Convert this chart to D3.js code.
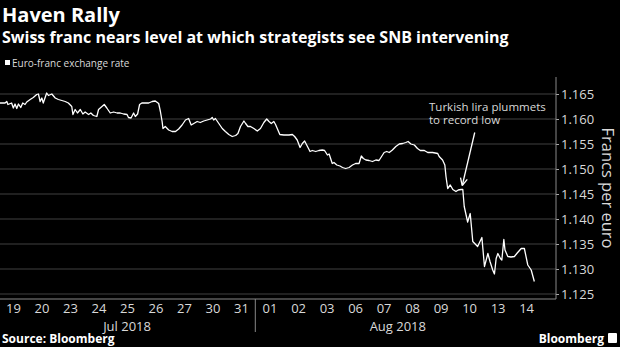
<!DOCTYPE html>
<html>
<head>
<meta charset="utf-8">
<script src="https://cdn.jsdelivr.net/npm/d3@7"></script>
<style>
  body { margin: 0; background: #000; }
  svg { display: block; font-family: "Open Sans", "Noto Sans", sans-serif; }
</style>
</head>
<body>
<div id="chart"></div>
<script>
// trading days shown on the x axis
const dayLabels = ["19", "20", "23", "24", "25", "26", "27", "30", "31",
                   "01", "02", "03", "06", "07", "08", "09", "10", "13", "14"];
const months = [
  { label: "Jul 2018", start: 0, end: 9 },
  { label: "Aug 2018", start: 9, end: 19 }
];
const yTicks = [1.125, 1.130, 1.135, 1.140, 1.145, 1.150, 1.155, 1.160, 1.165];

// position in trading days (0 = start of Jul 19) and EUR/CHF rate
const times = [0.04, 0.22, 0.28, 0.32, 0.45, 0.51, 0.57, 0.63, 0.69, 0.77, 0.84, 0.92, 0.98, 1.10, 1.21, 1.33, 1.39, 1.45, 1.51, 1.56,
  1.62, 1.68, 1.74, 1.86, 1.98, 2.09, 2.21, 2.33, 2.44, 2.56, 2.60, 2.68, 2.76, 2.86, 2.95, 3.03, 3.15, 3.23, 3.32, 3.44,
  3.50, 3.62, 3.70, 3.79, 3.91, 4.03, 4.15, 4.26, 4.38, 4.50, 4.55, 4.64, 4.73, 4.79, 4.87, 4.94, 5.02, 5.14, 5.26, 5.38,
  5.49, 5.61, 5.67, 5.73, 5.76, 5.84, 5.96, 6.08, 6.20, 6.31, 6.43, 6.55, 6.66, 6.75, 6.84, 6.96, 7.07, 7.19, 7.31, 7.43,
  7.49, 7.54, 7.60, 7.72, 7.84, 7.95, 8.07, 8.19, 8.31, 8.39, 8.48, 8.60, 8.66, 8.74, 8.83, 8.95, 9.07, 9.18, 9.30, 9.40,
  9.48, 9.56, 9.65, 9.71, 9.77, 9.86, 10.00, 10.18, 10.30, 10.38, 10.47, 10.57, 10.65, 10.73, 10.83, 10.92, 11.00, 11.12, 11.23, 11.35,
  11.43, 11.53, 11.59, 11.70, 11.76, 11.86, 11.97, 12.06, 12.17, 12.29, 12.41, 12.52, 12.64, 12.72, 12.79, 12.88, 12.99, 13.11, 13.23, 13.34,
  13.43, 13.52, 13.61, 13.70, 13.81, 13.93, 14.05, 14.17, 14.28, 14.36, 14.46, 14.58, 14.69, 14.79, 14.93, 15.05, 15.22, 15.40, 15.45, 15.57,
  15.65, 15.69, 15.75, 15.84, 15.93, 16.04, 16.12, 16.22, 16.28, 16.33, 16.45, 16.54, 16.63, 16.80, 16.95, 17.04, 17.16, 17.24, 17.33, 17.39,
  17.45, 17.51, 17.60, 17.65, 17.72, 17.76, 17.86, 17.97, 18.09, 18.19, 18.33, 18.44, 18.56, 18.68, 18.79];
const rates = [1.1632, 1.1632, 1.1635, 1.1629, 1.1632, 1.1622, 1.1630, 1.1621, 1.1630, 1.1623, 1.1632, 1.1629, 1.1634, 1.1639, 1.1643, 1.1649, 1.1650, 1.1635, 1.1642, 1.1632,
  1.1642, 1.1652, 1.1647, 1.1650, 1.1642, 1.1639, 1.1637, 1.1635, 1.1632, 1.1625, 1.1609, 1.1619, 1.1612, 1.1619, 1.1610, 1.1614, 1.1609, 1.1612, 1.1607, 1.1605,
  1.1619, 1.1625, 1.1629, 1.1622, 1.1612, 1.1614, 1.1612, 1.1612, 1.1610, 1.1609, 1.1603, 1.1602, 1.1612, 1.1605, 1.1610, 1.1629, 1.1632, 1.1632, 1.1632, 1.1635,
  1.1636, 1.1631, 1.1615, 1.1595, 1.1581, 1.1585, 1.1578, 1.1575, 1.1575, 1.1580, 1.1588, 1.1598, 1.1601, 1.1588, 1.1591, 1.1595, 1.1593, 1.1596, 1.1598, 1.1600,
  1.1603, 1.1598, 1.1601, 1.1591, 1.1581, 1.1575, 1.1569, 1.1565, 1.1567, 1.1571, 1.1585, 1.1596, 1.1591, 1.1585, 1.1585, 1.1581, 1.1576, 1.1581, 1.1593, 1.1600,
  1.1595, 1.1591, 1.1595, 1.1589, 1.1581, 1.1569, 1.1568, 1.1568, 1.1569, 1.1565, 1.1558, 1.1543, 1.1551, 1.1556, 1.1545, 1.1535, 1.1537, 1.1535, 1.1537, 1.1538,
  1.1537, 1.1528, 1.1530, 1.1511, 1.1513, 1.1508, 1.1506, 1.1503, 1.1501, 1.1503, 1.1508, 1.1511, 1.1511, 1.1526, 1.1521, 1.1518, 1.1517, 1.1515, 1.1518, 1.1517,
  1.1525, 1.1533, 1.1535, 1.1533, 1.1538, 1.1545, 1.1550, 1.1551, 1.1553, 1.1555, 1.1550, 1.1548, 1.1541, 1.1537, 1.1537, 1.1533, 1.1533, 1.1531, 1.1525, 1.1518,
  1.1508, 1.1485, 1.1461, 1.1468, 1.1459, 1.1455, 1.1458, 1.1459, 1.1459, 1.1425, 1.1394, 1.1411, 1.1355, 1.1345, 1.1363, 1.1305, 1.1331, 1.1314, 1.1298, 1.1290,
  1.1321, 1.1331, 1.1321, 1.1318, 1.1359, 1.1338, 1.1325, 1.1324, 1.1325, 1.1332, 1.1341, 1.1341, 1.1308, 1.1298, 1.1275];

const width = 620, height = 347;
const plot = { left: 0, right: 556, top: 77, bottom: 299 };
const textColor = "#d9d9d9";

const svg = d3.select("#chart").append("svg")
    .attr("width", width)
    .attr("height", height);

svg.append("rect").attr("width", width).attr("height", height).attr("fill", "#000");

const x = d3.scaleLinear().domain([0, 19.55]).range([-1.2, plot.right]);
const y = d3.scaleLinear().domain([1.124, 1.1684]).range([plot.bottom, plot.top]);

// titles
svg.append("text").attr("x", 2).attr("y", 22)
    .attr("fill", "#fff").attr("font-size", "20px").attr("font-weight", "bold")
    .text("Haven Rally");
svg.append("text").attr("x", 2).attr("y", 43)
    .attr("fill", "#fff").attr("font-size", "16px").attr("font-weight", "bold")
    .text("Swiss franc nears level at which strategists see SNB intervening");

// legend
svg.append("rect").attr("x", 5).attr("y", 60).attr("width", 5).attr("height", 5).attr("fill", "#fff");
svg.append("text").attr("x", 12).attr("y", 67)
    .attr("fill", textColor).attr("font-size", "10px")
    .text("Euro-franc exchange rate");

// gridlines
svg.append("g").selectAll("line")
    .data(yTicks)
    .join("line")
    .attr("x1", plot.left).attr("x2", plot.right)
    .attr("y1", d => y(d)).attr("y2", d => y(d))
    .attr("stroke", "#2b2b2b").attr("stroke-width", 1.5);

// y axis on the right
const yAxis = svg.append("g")
    .attr("transform", `translate(${plot.right},0)`)
    .call(d3.axisRight(y).tickValues(yTicks).tickFormat(d3.format(".3f")).tickSize(3).tickPadding(2));
yAxis.select(".domain").remove();
yAxis.selectAll("line").attr("stroke", "#aaa");
yAxis.selectAll("text").attr("fill", textColor).attr("font-size", "13px")
    .attr("font-family", "'Open Sans', sans-serif");

svg.append("text")
    .attr("transform", `translate(602,188) rotate(90)`)
    .attr("text-anchor", "middle")
    .attr("fill", textColor).attr("font-size", "16.5px")
    .text("Francs per euro");

// x axis labels
const xAxis = svg.append("g")
    .attr("transform", `translate(0,${plot.bottom})`)
    .call(d3.axisBottom(x)
        .tickValues(d3.range(dayLabels.length).map(i => i + 0.5))
        .tickFormat(d => dayLabels[Math.floor(d)])
        .tickSize(0).tickPadding(5));
xAxis.select(".domain").remove();
xAxis.selectAll("text").attr("fill", textColor).attr("font-size", "13px")
    .attr("font-family", "'Open Sans', sans-serif");

svg.append("g").selectAll("text")
    .data(months)
    .join("text")
    .attr("x", d => (x(d.start) + x(d.end)) / 2)
    .attr("y", 331)
    .attr("text-anchor", "middle")
    .attr("fill", textColor).attr("font-size", "13px")
    .text(d => d.label);

// month separator
svg.append("line")
    .attr("x1", x(months[1].start)).attr("x2", x(months[1].start))
    .attr("y1", plot.bottom).attr("y2", 332)
    .attr("stroke", "#888").attr("stroke-width", 1);

// axis frame
svg.append("line").attr("x1", plot.left).attr("x2", plot.right)
    .attr("y1", plot.bottom).attr("y2", plot.bottom)
    .attr("stroke", "#888");
svg.append("line").attr("x1", plot.right).attr("x2", plot.right)
    .attr("y1", plot.top).attr("y2", plot.bottom)
    .attr("stroke", "#888");

// the rate line
const line = d3.line()
    .x(i => x(times[i]))
    .y(i => y(rates[i]));
svg.append("path")
    .datum(d3.range(times.length))
    .attr("d", line)
    .attr("fill", "none")
    .attr("stroke", "#fff")
    .attr("stroke-width", 1.3)
    .attr("stroke-linejoin", "round");

// annotation
const note = svg.append("text").attr("fill", textColor).attr("font-size", "11.5px");
note.append("tspan").attr("x", 429).attr("y", 111).text("Turkish lira plummets");
note.append("tspan").attr("x", 429).attr("y", 124).text("to record low");

const arrowEnd = [x(16.26), y(1.1467)];
const arrowStart = [arrowEnd[0] + 12.5, arrowEnd[1] - 53];
svg.append("line")
    .attr("x1", arrowStart[0]).attr("y1", arrowStart[1])
    .attr("x2", arrowEnd[0]).attr("y2", arrowEnd[1])
    .attr("stroke", "#fff").attr("stroke-width", 1.3);
const ang = Math.atan2(arrowEnd[1] - arrowStart[1], arrowEnd[0] - arrowStart[0]);
[-0.45, 0.45].forEach(a => {
  svg.append("line")
      .attr("x1", arrowEnd[0]).attr("y1", arrowEnd[1])
      .attr("x2", arrowEnd[0] - 8 * Math.cos(ang + a))
      .attr("y2", arrowEnd[1] - 8 * Math.sin(ang + a))
      .attr("stroke", "#fff").attr("stroke-width", 1.3);
});

// footer
svg.append("text").attr("x", 2).attr("y", 343)
    .attr("fill", "#fff").attr("font-size", "12px").attr("font-weight", "bold")
    .text("Source: Bloomberg");
svg.append("text").attr("x", 604).attr("y", 343)
    .attr("text-anchor", "end")
    .attr("fill", "#fff").attr("font-size", "12px").attr("font-weight", "bold")
    .text("Bloomberg");
svg.append("rect").attr("x", 608).attr("y", 333).attr("width", 9).attr("height", 10)
    .attr("fill", "#fff").attr("rx", 1);
</script>
</body>
</html>
